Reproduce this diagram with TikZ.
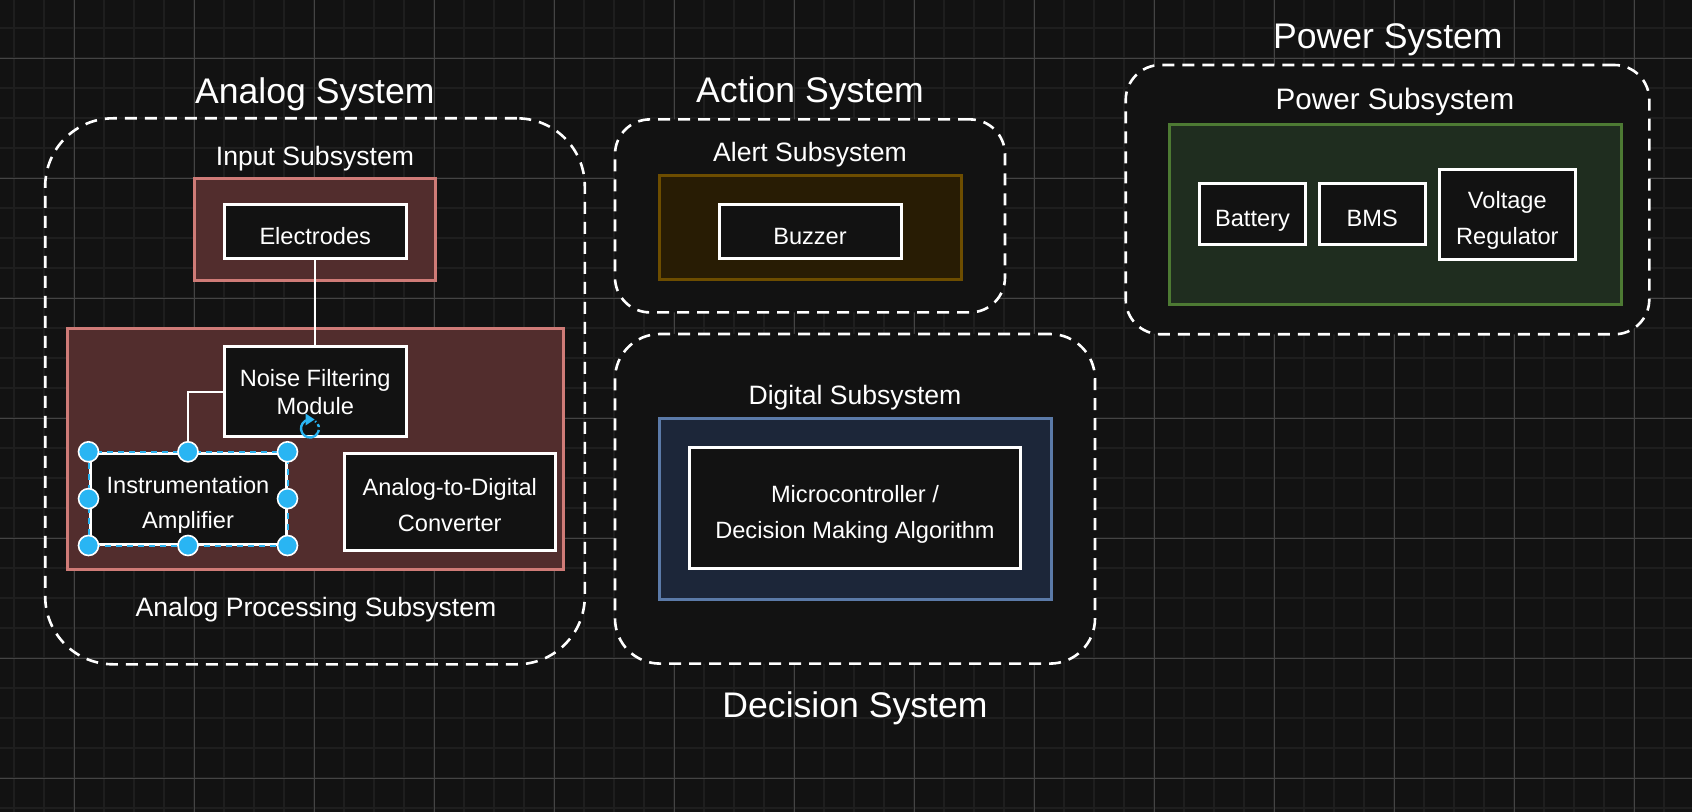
\documentclass[tikz,border=0pt]{standalone}
\usepackage{fontspec}
\setmainfont{Liberation Sans}
\usetikzlibrary{fit}
\definecolor{bg}{HTML}{121212}
\definecolor{gridminor}{HTML}{1E1E1E}
\definecolor{gridmajor}{HTML}{444444}
\definecolor{pinkfill}{HTML}{522D2D}
\definecolor{pinkline}{HTML}{CF7B77}
\definecolor{brownfill}{HTML}{281C04}
\definecolor{brownline}{HTML}{6D4D00}
\definecolor{bluefill}{HTML}{1C2639}
\definecolor{blueline}{HTML}{5B7AA8}
\definecolor{greenfill}{HTML}{1F2D1F}
\definecolor{greenline}{HTML}{4D7A33}
\definecolor{handleblue}{HTML}{29B5F3}
\newcommand{\bt}[3]{\raisebox{-#1}[0pt][0pt]{\fontsize{11.8pt}{#2}\selectfont\begin{tabular}[t]{@{}c@{}}#3\end{tabular}}}
\begin{document}
\begin{tikzpicture}[x=0.5pt,y=-0.5pt,
  minorg/.style={draw=gridminor, line width=1pt},
  majorg/.style={draw=gridmajor, line width=0.5pt},
  sysbox/.style={draw=white, line width=1.3pt, dash pattern=on 6pt off 4pt, inner sep=0pt},
  subbox/.style={line width=1.5pt, inner sep=0pt},
  wbox/.style={draw=white, fill=bg, line width=1.5pt, inner sep=0pt, text=white},
  systitle/.style={text=white, font=\fontsize{17.8pt}{20pt}\selectfont, anchor=base, inner sep=0pt},
  sublabel/.style={text=white, font=\fontsize{13.3pt}{16pt}\selectfont, anchor=base, inner sep=0pt},
  conn/.style={draw=white, line width=1pt},
  handle/.style={circle, fill=handleblue, draw=white, line width=0.8pt, minimum size=10pt, inner sep=0pt},
]
\fill[bg] (0,0) rectangle (1692,812);
\useasboundingbox (0,0) rectangle (1692,812);
% grid
\foreach \i in {0,...,56} \draw[minorg] ({14.3+30*\i},0) -- ({14.3+30*\i},812);
\foreach \j in {1,...,27} \draw[minorg] (0,{-1.7+30*\j}) -- (1692,{-1.7+30*\j});
\foreach \i in {0,...,13} \draw[majorg] ({74.3+120*\i},0) -- ({74.3+120*\i},812);
\foreach \j in {0,...,6} \draw[majorg] (0,{58.3+120*\j}) -- (1692,{58.3+120*\j});

% ===== Analog System =====
\node[sysbox, rounded corners=34pt, fit={(45.2,118.3) (584.8,664.3)}] (analog) {};
\node[systitle] (analogT) at (314.8,103.3) {Analog System};
\node[sublabel] (inputT) at (315,165.7) {Input Subsystem};
\node[subbox, draw=pinkline, fill=pinkfill, fit={(194.4,179) (435.5,280.7)}] (input) {};
\node[wbox, fit={(224.3,205) (406.2,258.3)}] (elec) {\bt{6.3pt}{18pt}{Electrodes}};
\node[subbox, draw=pinkline, fill=pinkfill, fit={(67,328.3) (563.3,569.3)}] (aproc) {};
\node[wbox, fit={(224.3,346.7) (406.2,436.7)}] (noise) {\bt{-2.5pt}{14.15pt}{Noise Filtering\\Module}};
\node[wbox, fit={(90,453.3) (286,544)}] (inst) {\bt{-2.7pt}{17.5pt}{Instrumentation\\Amplifier}};
\node[wbox, fit={(344,454) (555.5,550.5)}] (adc) {\bt{-3.6pt}{18.3pt}{Analog-to-Digital\\Converter}};
\node[sublabel] (aprocT) at (316,616) {Analog Processing Subsystem};

\draw[conn] (elec.south) -- (noise.north);
\draw[conn] (noise.west) -| (inst.north);

% selection overlay
\draw[handleblue, line width=1pt, dash pattern=on 3pt off 2.5pt] (inst.north west) rectangle (inst.south east);
\foreach \a/\n in {north west/h1, north/h2, north east/h3, west/h4, east/h5, south west/h6, south/h7, south east/h8}
  \node[handle] (\n) at (inst.\a) {};
\coordinate (rotc) at (310,428.5);
\draw[handleblue, line width=1.2pt] (rotc) ++(-100:9) arc[start angle=-100, end angle=-330, radius=9];
\draw[handleblue, line width=1.2pt, dash pattern=on 1.6pt off 1.4pt] (rotc) ++(-330:9) arc[start angle=-330, end angle=-415, radius=9];
\fill[handleblue] (305.5,413.5) -- (314.5,419.5) -- (305.5,425.5) -- cycle;

% ===== Action System =====
\node[sysbox, fill=bg, rounded corners=17.5pt, fit={(615,119.4) (1005,312.4)}] (action) {};
\node[systitle] (actionT) at (810,102.9) {Action System};
\node[sublabel] (alertT) at (810,161.5) {Alert Subsystem};
\node[subbox, draw=brownline, fill=brownfill, fit={(659.3,175.8) (961,279.8)}] (alert) {};
\node[wbox, fit={(719,204.8) (901,258.2)}] (buzzer) {\bt{6.4pt}{18pt}{Buzzer}};

% ===== Decision System =====
\node[sysbox, fill=bg, rounded corners=22.5pt, fit={(615,334) (1095,663.6)}] (decision) {};
\node[sublabel] (digitalT) at (855,404.7) {Digital Subsystem};
\node[subbox, draw=blueline, fill=bluefill, fit={(659.3,418.6) (1051,599.4)}] (digital) {};
\node[wbox, fit={(689.3,448) (1020.7,568.2)}] (micro) {\bt{-2.9pt}{18.2pt}{Microcontroller /\\Decision Making Algorithm}};
\node[systitle] (decisionT) at (855,717.8) {Decision System};

% ===== Power System =====
\node[sysbox, fill=bg, rounded corners=17.5pt, fit={(1125.7,65) (1649.3,334.3)}] (power) {};
\node[systitle] (powerT) at (1387.9,48.4) {Power System};
\node[sublabel, font=\fontsize{14.8pt}{17pt}\selectfont] (psubT) at (1395,109.3) {Power Subsystem};
\node[subbox, draw=greenline, fill=greenfill, fit={(1169,124.3) (1621,304.3)}] (psub) {};
\node[wbox, fit={(1199.3,184) (1305.7,245)}] (battery) {\bt{6.1pt}{18pt}{Battery}};
\node[wbox, fit={(1319,184) (1425.4,245)}] (bms) {\bt{6.1pt}{18pt}{BMS}};
\node[wbox, fit={(1439,169.3) (1575.7,260)}] (vreg) {\bt{-3.2pt}{18pt}{Voltage\\Regulator}};
\end{tikzpicture}
\end{document}
